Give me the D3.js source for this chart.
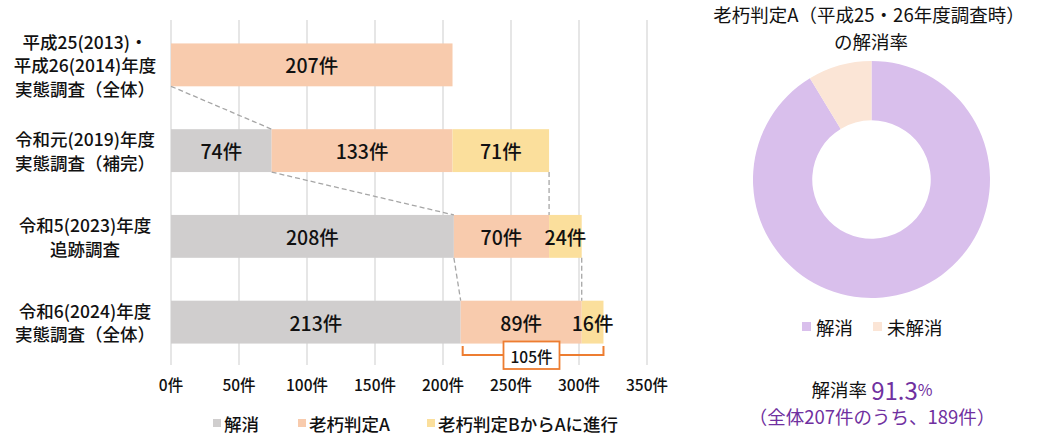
<!DOCTYPE html>
<html><head><meta charset="utf-8">
<script src="https://cdn.jsdelivr.net/npm/d3@7"></script>
<style>
body{margin:0;background:#fff;}
svg{font-family:"Noto Sans CJK JP","Noto Sans",sans-serif;}
</style></head>
<body><svg id="c" width="1050" height="438"></svg>
<script>
// ---- data ----
const categories = [
  ["平成25(2013)・","平成26(2014)年度","実態調査（全体）"],
  ["令和元(2019)年度","実態調査（補完）"],
  ["令和5(2023)年度","追跡調査"],
  ["令和6(2024)年度","実態調査（全体）"]
];
const resolved   = [0, 74, 208, 213];
const oldA       = [207, 133, 70, 89];
const progressed = [0, 71, 24, 16];
const seriesNames = ["解消","老朽判定A","老朽判定BからAに進行"];
const xTicks = [0,50,100,150,200,250,300,350];
const bracketLabel = "105件";
const donutLabels = ["解消","未解消"];
const donutValues = [189, 18];
const rateText = "91.3";

const colors = ["#d0cece","#f8cbad","#fbdf9c"];
const donutColors = ["#d9bfec","#fbe5d6"];

const svg = d3.select("#c");
const x = d3.scaleLinear().domain([0,350]).range([171,647]);
const y = d3.scaleBand().domain(d3.range(categories.length)).range([22,365]).paddingInner(0.5).paddingOuter(0.25);

// gridlines
svg.append("g").selectAll("line").data(xTicks).join("line")
  .attr("x1",d=>x(d)).attr("x2",d=>x(d)).attr("y1",20).attr("y2",365)
  .attr("stroke","#d9d9d9").attr("stroke-width",1.3);

// tick labels
svg.append("g").selectAll("text").data(xTicks).join("text")
  .attr("x",d=>x(d)).attr("y",384).attr("text-anchor","middle").attr("dominant-baseline","central")
  .attr("font-size",15.5).attr("font-weight",500).attr("fill","#111").text(d=>d+"件");

// stacked bars
const rows = categories.map((c,i)=>{
  const vals=[resolved[i],oldA[i],progressed[i]];
  let acc=0; return vals.map((v,k)=>{const s={i,k,v,x0:acc,x1:acc+v}; acc+=v; return s;});
}).flat().filter(s=>s.v>0);

svg.append("g").selectAll("rect").data(rows).join("rect")
  .attr("x",d=>x(d.x0)).attr("width",d=>x(d.x1)-x(d.x0))
  .attr("y",d=>y(d.i)).attr("height",y.bandwidth())
  .attr("fill",d=>colors[d.k]);

svg.append("g").selectAll("text").data(rows).join("text")
  .attr("x",d=>(x(d.x0)+x(d.x1))/2).attr("y",d=>y(d.i)+y.bandwidth()/2)
  .attr("text-anchor","middle").attr("dominant-baseline","central")
  .attr("font-size",19.5).attr("font-weight",500).attr("fill","#111")
  .text(d=>d.v+"件");

// connectors
const conn=[];
for(let i=0;i<categories.length-1;i++){
  conn.push({a:resolved[i], b:resolved[i+1], i});
  if(progressed[i]>0) conn.push({a:resolved[i]+oldA[i]+progressed[i], b:resolved[i+1]+oldA[i+1], i});
}
svg.append("g").selectAll("line").data(conn).join("line")
  .attr("x1",d=>x(d.a)).attr("y1",d=>y(d.i)+y.bandwidth())
  .attr("x2",d=>x(d.b)).attr("y2",d=>y(d.i+1))
  .attr("stroke","#a6a6a6").attr("stroke-width",1.3).attr("stroke-dasharray","5,3");

// category labels
const lab = svg.append("g");
categories.forEach((lines,i)=>{
  const cy = y(i)+y.bandwidth()/2;
  const t = lab.append("text").attr("text-anchor","middle").attr("font-size",17.5).attr("font-weight",500).attr("fill","#111");
  lines.forEach((ln,j)=>{
    t.append("tspan").attr("x",85).attr("y",cy+(j-(lines.length-1)/2)*23.5).attr("dominant-baseline","central").text(ln);
  });
});

// bracket
const last = categories.length-1;
const bx0 = x(resolved[last]), bx1 = x(resolved[last]+oldA[last]+progressed[last]);
const by = 355;
svg.append("path")
  .attr("d",`M${bx0+2},346 V${by} H${bx1} V346`)
  .attr("fill","none").attr("stroke","#ed7d31").attr("stroke-width",2);
svg.append("rect").attr("x",503.5).attr("y",341.5).attr("width",56).attr("height",27.5)
  .attr("fill","#fff").attr("stroke","#ed7d31").attr("stroke-width",1.8);
svg.append("text").attr("x",531.5).attr("y",355.5).attr("text-anchor","middle").attr("dominant-baseline","central")
  .attr("font-size",15.5).attr("font-weight",500).attr("fill","#111").text(bracketLabel);

// legend
const legX=[213,298,427];
const lg = svg.append("g");
seriesNames.forEach((n,k)=>{
  lg.append("rect").attr("x",legX[k]).attr("y",419).attr("width",8).attr("height",8).attr("fill",colors[k]);
  lg.append("text").attr("x",legX[k]+11).attr("y",423.5).attr("dominant-baseline","central")
    .attr("font-size",17.5).attr("font-weight",500).attr("fill","#111").text(n);
});

// donut
const cx=871.5, cy=179.5, R=118.5;
svg.append("text").attr("x",869).attr("y",14).attr("text-anchor","middle").attr("dominant-baseline","central")
  .attr("font-size",18.5).attr("fill","#111").text("老朽判定A（平成25・26年度調査時）");
svg.append("text").attr("x",871).attr("y",41).attr("text-anchor","middle").attr("dominant-baseline","central")
  .attr("font-size",18.5).attr("fill","#111").text("の解消率");
const pie = d3.pie().sort(null).value(d=>d)(donutValues);
const arc = d3.arc().innerRadius(R*0.5).outerRadius(R);
svg.append("g").attr("transform",`translate(${cx},${cy})`).selectAll("path").data(pie).join("path")
  .attr("d",arc).attr("fill",(d,i)=>donutColors[i]);

const dlx=[802,873];
donutLabels.forEach((n,k)=>{
  svg.append("rect").attr("x",dlx[k]).attr("y",322).attr("width",9).attr("height",9).attr("fill",donutColors[k]);
  svg.append("text").attr("x",dlx[k]+14).attr("y",327).attr("dominant-baseline","central")
    .attr("font-size",18.5).attr("fill","#111").text(n);
});

const rt = svg.append("text").attr("x",872).attr("y",389).attr("text-anchor","middle").attr("dominant-baseline","central");
rt.append("tspan").attr("font-size",18.5).attr("fill","#111").text("解消率 ");
rt.append("tspan").attr("font-size",24).attr("fill","#7030a0").text(rateText);
rt.append("tspan").attr("font-size",16).attr("fill","#7030a0").text("%");
svg.append("text").attr("x",872).attr("y",416).attr("text-anchor","middle").attr("dominant-baseline","central")
  .attr("font-size",18.5).attr("fill","#7030a0").text(`（全体${donutValues[0]+donutValues[1]}件のうち、${donutValues[0]}件）`);
</script></body></html>
